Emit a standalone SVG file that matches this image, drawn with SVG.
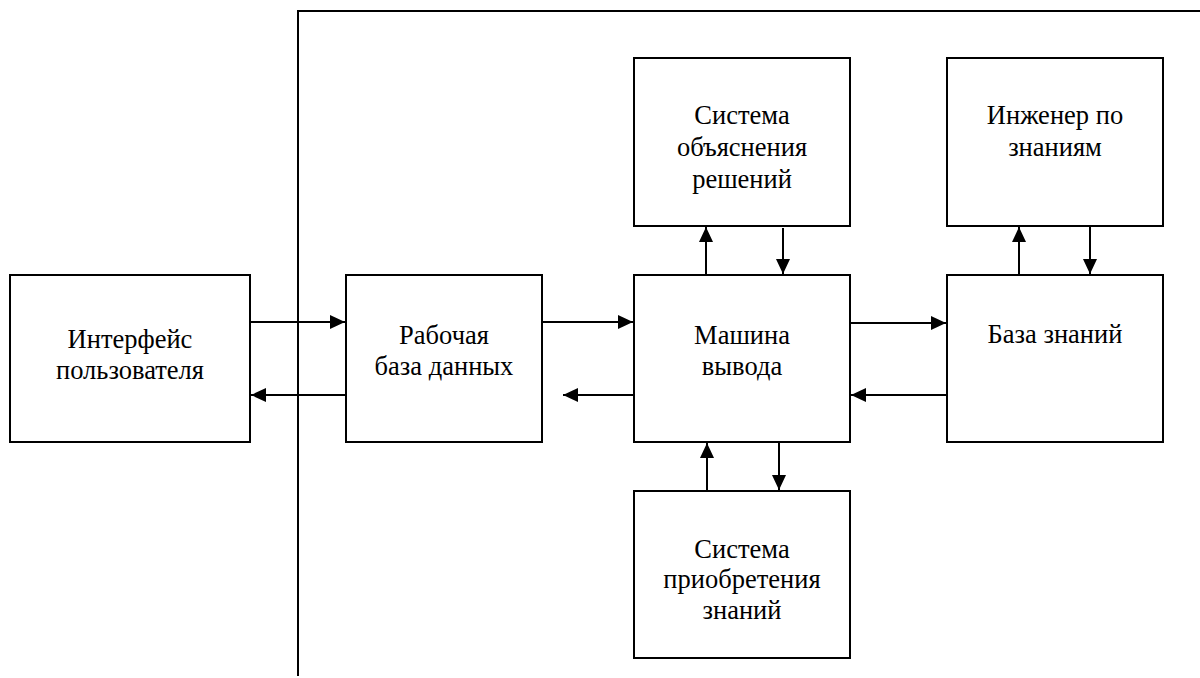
<svg xmlns="http://www.w3.org/2000/svg" width="1200" height="678" viewBox="0 0 1200 678">
<style>
.box{fill:#fff;stroke:#000;stroke-width:2}
.t{font-family:'Liberation Serif','DejaVu Serif',serif;font-size:26.5px;fill:#000;text-anchor:middle}
.c{stroke:#000;stroke-width:2;fill:none;marker-end:url(#ah)}
</style>
<defs>
<marker id="ah" markerUnits="userSpaceOnUse" markerWidth="16" markerHeight="14" refX="15" refY="7" orient="auto">
<path d="M0,0 L15,7 L0,14 Z" fill="#000"/>
</marker>
</defs>
<rect width="1200" height="678" fill="#fff"/>
<g id="frame"><path d="M1200,11 H298 V676" fill="none" stroke="#000" stroke-width="2"/></g>
<g id="interface"><rect class="box" x="10" y="275" width="240" height="167"/><text class="t" x="130" y="348">Интерфейс</text><text class="t" x="130" y="379">пользователя</text></g>
<g id="workdb"><rect class="box" x="346" y="275" width="196" height="167"/><text class="t" x="444" y="344">Рабочая</text><text class="t" x="444" y="375">база данных</text></g>
<g id="engine"><rect class="box" x="634" y="275" width="216" height="167"/><text class="t" x="742" y="344">Машина</text><text class="t" x="742" y="375">вывода</text></g>
<g id="explain"><rect class="box" x="634" y="58" width="216" height="168"/><text class="t" x="742" y="124">Система</text><text class="t" x="742" y="156">объяснения</text><text class="t" x="742" y="188">решений</text></g>
<g id="engineer"><rect class="box" x="947" y="58" width="216" height="168"/><text class="t" x="1055" y="124">Инженер по</text><text class="t" x="1055" y="156">знаниям</text></g>
<g id="kb"><rect class="box" x="947" y="275" width="216" height="167"/><text class="t" x="1055" y="343">База знаний</text></g>
<g id="acquire"><rect class="box" x="634" y="491" width="216" height="167"/><text class="t" x="742" y="558">Система</text><text class="t" x="742" y="588">приобретения</text><text class="t" x="742" y="619">знаний</text></g>
<g id="connectors">
<path class="c" d="M250,322 H345"/>
<path class="c" d="M346,395 H251"/>
<path class="c" d="M542,322 H633"/>
<path class="c" d="M634,395 H563"/>
<path class="c" d="M850,323 H946"/>
<path class="c" d="M947,395 H851"/>
<path class="c" d="M706,275 V227"/>
<path class="c" d="M783,228 V274"/>
<path class="c" d="M1019,275 V227"/>
<path class="c" d="M1090,226 V274"/>
<path class="c" d="M707,491 V443"/>
<path class="c" d="M779,442 V490"/>
</g>
</svg>
